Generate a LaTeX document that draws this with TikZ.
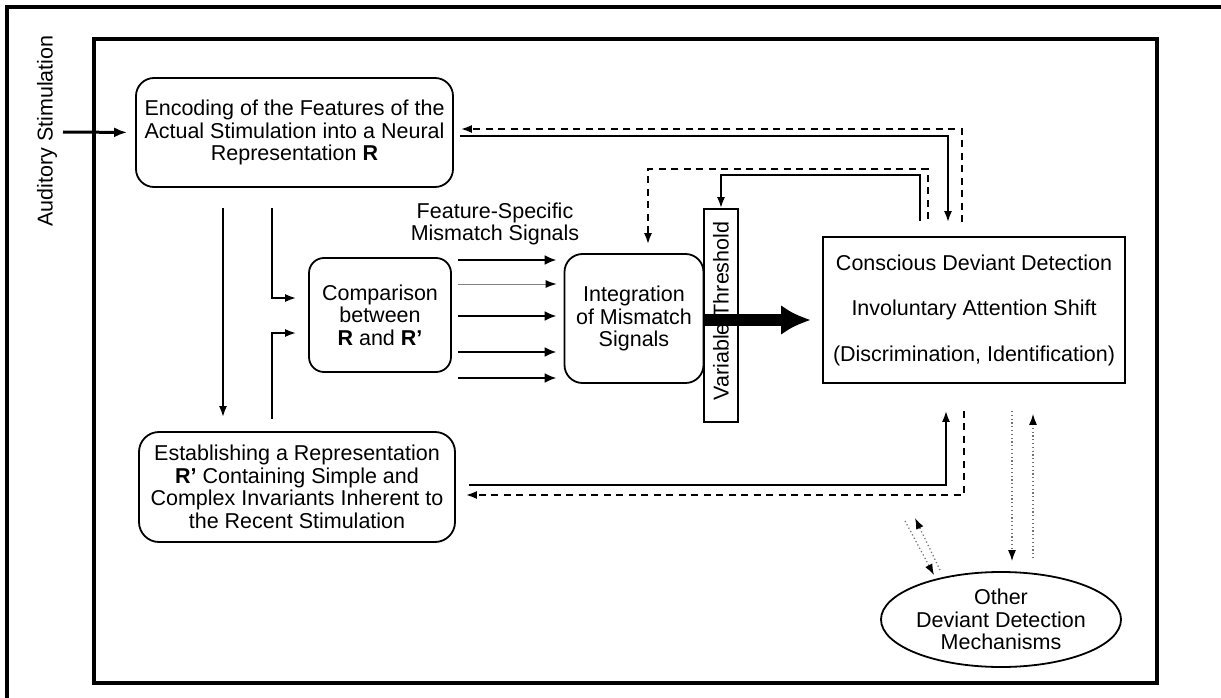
\documentclass[tikz,border=0pt]{standalone}
\usepackage{fontspec}
\setmainfont{Liberation Sans}
\usetikzlibrary{arrows.meta,shapes.geometric,calc}
\begin{document}
\begin{tikzpicture}[x=1pt,y=-1pt,
  font=\fontsize{21.5}{22.5}\selectfont,
  box/.style={draw, line width=1.8pt, align=center, inner sep=0pt},
  rbox/.style={box, rounded corners=18pt},
  conn/.style={line width=1.8pt, -{Latex[length=11pt,width=8pt]}},
  dconn/.style={conn, dash pattern=on 7pt off 5.5pt},
  dotconn/.style={line width=1.3pt, draw=black!55, dash pattern=on 1.2pt off 2.6pt,
     -{Latex[length=11pt,width=8pt,fill=black,color=black]}},
  mis/.style={line width=2.8pt, -{Latex[length=12pt,width=10pt]}},
  misthin/.style={line width=1pt, draw=black!50, -{Latex[length=11pt,width=8pt,color=black]}}
]
\useasboundingbox (0,0) rectangle (1221,698);
% outer frame (partly cropped)
\draw[line width=3.2pt] (7,698) -- (7,7) -- (1221,7);
% inner frame
\draw[line width=3.6pt] (94,39) rectangle (1157,683);

% nodes
\node[rotate=90] (aud) at (47,131) {Auditory Stimulation};
\coordinate (audstart) at (63,132);
\node[rbox, minimum width=317pt, minimum height=109pt] (enc) at (294.5,132.5)
  {Encoding of the Features of the\\Actual Stimulation into a Neural\\Representation \textbf{R}};
\node[rbox, rounded corners=15pt, minimum width=142pt, minimum height=114pt] (cmp) at (380,315)
  {Comparison\\between\\\textbf{R} and \textbf{R'}};
\node[rbox, minimum width=139pt, minimum height=129pt] (int) at (634,318.5)
  {Integration\\of Mismatch\\Signals};
\node[box, minimum width=34pt, minimum height=213pt] (thr) at (721,315.5) {};
\node[rotate=90] (thrtext) at (721,311) {Variable Threshold};
\node[box, minimum width=302pt, minimum height=146pt] (cons) at (974,310)
  {Conscious Deviant Detection\\[23pt]Involuntary Attention Shift\\[23pt](Discrimination, Identification)};
\node[rbox, rounded corners=20pt, minimum width=316pt, minimum height=110pt] (est) at (297,487)
  {Establishing a Representation\\\textbf{R'} Containing Simple and\\Complex Invariants Inherent to\\the Recent Stimulation};
\node[box, ellipse, minimum width=188pt, minimum height=95pt] (oth) at (1001,619.5)
  {Other\\Deviant Detection\\Mechanisms};
\node[align=center] (fs) at (495,224) {Feature-Specific\\Mismatch Signals};

% auditory input
\draw[line width=3pt, -{Latex[length=13pt,width=10pt]}, shorten >=8pt] (audstart) -- (enc.west);

% encoding <-> conscious
\draw[conn, shorten <=6pt, shorten >=14pt] (enc.east |- 0,136) -| (cons.north -| 948,0);
\draw[dconn, shorten <=14pt, shorten >=7pt] (cons.north -| 962,0) |- (enc.east |- 0,129);

% conscious -> threshold and integration
\draw[conn, shorten <=15pt] (cons.north -| 920,0) |- (thr.north |- 0,175) -- (thr.north);
\draw[dconn, shorten <=17pt, shorten >=9pt] (cons.north -| 928,0) |- (648,169) -- (int.north -| 648,0);

% establishing <-> conscious
\draw[conn, shorten <=13pt, shorten >=27pt] (est.east |- 0,485) -| (cons.south -| 946,0);
\draw[dconn, shorten <=27pt, shorten >=10pt] (cons.south -| 964,0) |- (est.east |- 0,495);

% conscious <-> other mechanisms
\draw[dotconn, shorten <=27pt, shorten >=10pt] (cons.south -| 1012,0) -- (oth.north -| 1012,0);
\draw[dotconn, shorten <=13pt, shorten >=30pt] (oth.north -| 1033,0) -- (cons.south -| 1033,0);
\coordinate (d1a) at (940,570);
\coordinate (d1b) at (915,518);
\coordinate (d2a) at (905,521);
\coordinate (d2b) at (934,575);
\draw[dotconn] (d1a) -- (d1b);
\draw[dotconn] (d2a) -- (d2b);

% encoding / establishing -> comparison
\draw[conn, shorten <=20pt, shorten >=14pt] (enc.south -| 223,0) -- (est.north -| 223,0);
\draw[conn, shorten <=20pt, shorten >=12pt] (enc.south -| 272,0) |- (cmp.west |- 0,298);
\draw[conn, shorten <=12pt, shorten >=12pt] (est.north -| 272,0) |- (cmp.west |- 0,333);

% mismatch signals
\draw[mis, shorten <=6pt, shorten >=7pt] (cmp.east |- 0,260) -- (int.west |- 0,260);
\draw[misthin, shorten <=6pt, shorten >=7pt] (cmp.east |- 0,284) -- (int.west |- 0,284);
\draw[mis, shorten <=6pt, shorten >=7pt] (cmp.east |- 0,316) -- (int.west |- 0,316);
\draw[mis, shorten <=6pt, shorten >=7pt] (cmp.east |- 0,352) -- (int.west |- 0,352);
\draw[mis, shorten <=6pt, shorten >=7pt] (cmp.east |- 0,378) -- (int.west |- 0,378);

% big output arrow
\draw[line width=12pt, -{Latex[length=30pt,width=30pt]}, shorten >=11pt] (int.east |- 0,320) -- (cons.west |- 0,320);
\end{tikzpicture}
\end{document}
